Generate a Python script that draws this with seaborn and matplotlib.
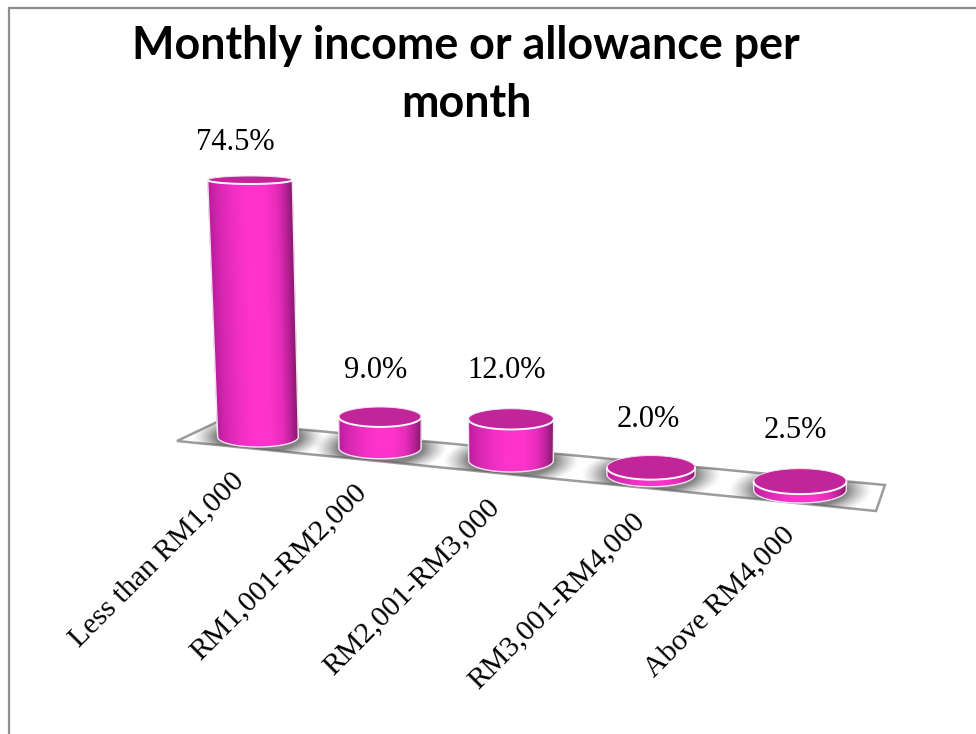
import numpy as np
import matplotlib
matplotlib.use("Agg")
import matplotlib.pyplot as plt
import seaborn as sns
from matplotlib.collections import PolyCollection
from matplotlib.colors import LinearSegmentedColormap
from matplotlib.patches import Polygon
from matplotlib.transforms import Affine2D, Transform

# Survey shares, percent of respondents
income_bands = ["Less than RM1,000", "RM1,001-RM2,000", "RM2,001-RM3,000",
                "RM3,001-RM4,000", "Above RM4,000"]
shares = [74.5, 9.0, 12.0, 2.0, 2.5]
chart_title = "Monthly income or allowance per\nmonth"

W, H = 976, 734
BAR_WIDTH = 0.8

sns.set_theme(style="white")
fig = plt.figure(figsize=(W / 100, H / 100), dpi=100, facecolor="white")
ax = fig.add_axes([0, 0, 1, 1])

# Screen space measured in pixels from the top-left corner
screen = Affine2D().scale(1, -1).translate(0, H)


def base_x(n):
    return 258 + 117.5 * n + 4.5 * n ** 2


def base_y(n):
    return 437 + 10.25 * n + 0.75 * n ** 2


def radius_x(n, v):
    return (40.3 + 0.5 * n + 0.25 * n ** 2) * (1 + 0.05 * v / 74.5)


def radius_y(n, v):
    return (10 + 0.75 * n) * (1 - 0.6 * v / 74.5)


def rise(v):
    return 3.45 * np.asarray(v)


def lean(n, v):
    # Tall columns tip away from the viewer towards the left
    return (380 - base_x(n)) * v * 0.00088


def project(n, u, v):
    """Point on a cylinder wall: category n, u in [-1, 1] across it, height v."""
    x = base_x(n) + u * radius_x(n, v) - (lean(n, v) if n == 0 else 0)
    y = base_y(n) - rise(v)
    return x, y


class FloorProjection(Transform):
    """Maps (category position, percent) onto the slanted chart floor."""
    input_dims = 2
    output_dims = 2
    is_affine = False
    has_inverse = False

    def transform_non_affine(self, values):
        values = np.asarray(values, dtype=float)
        out = np.zeros_like(values)
        for k, (pos, v) in enumerate(values):
            n = int(np.round(pos))
            x, y = project(n, (pos - n) / (BAR_WIDTH / 2), v)
            out[k] = x, H - y
        return out


sns.barplot(x=income_bands, y=shares, ax=ax, width=BAR_WIDTH, color="#ff33cc",
            saturation=1, zorder=3)
ax.axis("off")
bars = list(ax.patches)

# Slanted floor under the cylinders
floor = Polygon([(177, 441), (218, 421.5), (885, 485), (876, 511)], closed=True,
                facecolor="white", edgecolor="#9c9c9c", linewidth=1.8,
                transform=screen, zorder=1, clip_on=False)
ax.add_patch(floor)

wall_cmap = LinearSegmentedColormap.from_list(
    "wall", [(0.0, "#b81c9c"), (0.12, "#d626b0"), (0.3, "#f02ec4"), (0.45, "#ff33cc"),
             (0.66, "#ff33cc"), (0.82, "#e62cba"), (0.93, "#b52094"), (1.0, "#861a6c")])
TOP_FACE = "#c2249a"
RIM = "#f3e3ef"

grid_y, grid_x = np.mgrid[-1:1:160j, -1:1:160j]
strips_u = np.linspace(-1, 1, 121)

for bar in bars:
    bar.set_transform(FloorProjection())
    bar.set_clip_on(False)
    pos = bar.get_x() + bar.get_width() / 2
    value = bar.get_height()
    n = int(np.round(pos))

    bottom_rx, bottom_ry = radius_x(n, 0), radius_y(n, 0)
    top_rx, top_ry = radius_x(n, value), radius_y(n, value)
    bx, by = project(n, 0, 0)
    tx, ty = project(n, 0, value)

    # Soft shadow falling on the floor
    r = np.hypot(grid_x, grid_y)
    rgba = np.zeros(r.shape + (4,))
    rgba[..., :3] = 0.33
    rgba[..., 3] = 0.72 * np.clip((1 - r) / 0.36, 0, 1) ** 1.3
    shadow = ax.imshow(rgba, extent=(bx - bottom_rx - 26, bx + bottom_rx + 26,
                                     by + bottom_ry + 14, by - bottom_ry - 14),
                       transform=screen, aspect="auto", zorder=2, interpolation="bilinear")
    shadow.set_clip_path(floor)

    # Cylinder wall as shaded vertical strips
    quads, shades = [], []
    for u0, u1 in zip(strips_u[:-1], strips_u[1:]):
        bot0 = (bx + u0 * bottom_rx, by + bottom_ry * np.sqrt(1 - u0 ** 2))
        bot1 = (bx + u1 * bottom_rx, by + bottom_ry * np.sqrt(1 - u1 ** 2))
        top0 = (tx + u0 * top_rx, ty + top_ry * np.sqrt(1 - u0 ** 2))
        top1 = (tx + u1 * top_rx, ty + top_ry * np.sqrt(1 - u1 ** 2))
        quads.append([bot0, bot1, top1, top0])
        shades.append(wall_cmap((u0 + u1 + 2) / 4))
    ax.add_collection(PolyCollection(quads, facecolors=shades, edgecolors=shades,
                                     linewidths=0.4, transform=screen, zorder=4),
                      autolim=False)

    # Pale edge along the foot and flanks
    t = np.linspace(0, np.pi, 80)
    foot_x = bx + bottom_rx * np.cos(t)
    foot_y = by + bottom_ry * np.sin(t)
    ax.plot(np.r_[tx + top_rx, foot_x, tx - top_rx], np.r_[ty, foot_y, ty],
            color=RIM, lw=1.0, transform=screen, zorder=5, clip_on=False)

    # Top face with a bright rim
    t = np.linspace(0, 2 * np.pi, 160)
    ax.fill(tx + top_rx * np.cos(t), ty + top_ry * np.sin(t), color=TOP_FACE,
            transform=screen, zorder=6, lw=0)
    ax.plot(tx + top_rx * np.cos(t), ty + top_ry * np.sin(t), color=RIM, lw=0.7,
            transform=screen, zorder=7)
    t = np.linspace(0, np.pi, 80)
    ax.plot(tx + top_rx * np.cos(t), ty + top_ry * np.sin(t), color="#fbf4f9", lw=1.4,
            transform=screen, zorder=7)

# Chart-area border, open towards the right and bottom
ax.plot([9, 9, W], [H, 8, 8], color="#8e8e8e", lw=1.6, transform=screen, zorder=1,
        clip_on=False, solid_joinstyle="miter")

serif = "Liberation Serif"
fig.text(466 / W, 1 - 75 / H, chart_title, family="Lato", weight="bold", fontsize=32.3,
         ha="center", va="center", linespacing=1.45, color="black")

label_shift = [(-15, -37), (-4, -46), (-4, -49), (-3, -48), (-5, -51)]
for bar, (dx, dy) in zip(bars, label_shift):
    pos = bar.get_x() + bar.get_width() / 2
    n = int(np.round(pos))
    x, y = project(n, 0, bar.get_height())
    ax.text(x + dx, y + dy, f"{bar.get_height():.1f}%", family=serif, fontsize=22,
            ha="center", va="center", color="black", transform=screen, zorder=8)

tick_shift = [(-18, 40), (-18, 40), (-16, 43), (-10, 43), (-9, 41)]
for n, (name, (dx, dy)) in enumerate(zip(income_bands, tick_shift)):
    ax.text(base_x(n) + dx, base_y(n) + dy, name, family=serif, fontsize=21.5,
            rotation=45, rotation_mode="anchor", ha="right", va="center",
            color="black", transform=screen, zorder=8)

fig.savefig("out.png", dpi=100, facecolor="white")
